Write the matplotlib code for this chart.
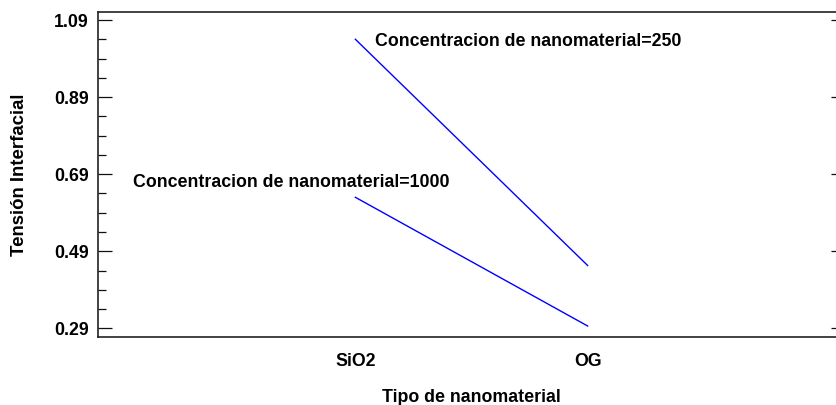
import matplotlib
matplotlib.use("Agg")
import matplotlib.pyplot as plt
from matplotlib.ticker import FixedLocator

categories = ["SiO2", "OG"]
conc_250 = [1.040, 0.453]
conc_1000 = [0.630, 0.296]
series_labels = ["Concentracion de nanomaterial=250", "Concentracion de nanomaterial=1000"]
y_major = [0.29, 0.49, 0.69, 0.89, 1.09]
y_minor = [0.34, 0.39, 0.44, 0.54, 0.59, 0.64, 0.74, 0.79, 0.84, 0.94, 0.99, 1.04]

plt.rcParams['font.family'] = ['Liberation Sans', 'DejaVu Sans']
FS = 12.8

fig = plt.figure(figsize=(8.36, 4.05), dpi=100)
ax = fig.add_axes([0.1172, 0.1686, 1.0108 - 0.1172, 0.9704 - 0.1686])

x = [1, 2]
ax.plot(x, conc_250, color='#0000ff', lw=1.0)
ax.plot(x, conc_1000, color='#0000ff', lw=1.0)

ax.annotate(series_labels[0], xy=(x[0], conc_250[0]), xytext=(14.4, -4.8),
            textcoords='offset points', ha='left', va='baseline',
            fontsize=FS, fontweight='bold')
ax.annotate(series_labels[1], xy=(x[0], conc_1000[0]), xytext=(-160, 7.4),
            textcoords='offset points', ha='left', va='baseline',
            fontsize=FS, fontweight='bold')

ax.set_xlim(1 - 1.108, 2 + 1.108)
ax.set_ylim(0.2682, 1.1108)
ax.set_xticks(x)
ax.set_xticklabels(categories, fontsize=FS, fontweight='bold')
ax.set_yticks(y_major)
ax.set_yticklabels([f"{v:.2f}" for v in y_major], fontsize=FS, fontweight='bold')
ax.yaxis.set_minor_locator(FixedLocator(y_minor))

ax.tick_params(axis='x', length=0, pad=11.5)
ax.tick_params(axis='y', which='major', direction='in', length=10, width=0.9,
               left=True, right=True, pad=6.5, color='#111111')
ax.tick_params(axis='y', which='minor', direction='in', length=5.5, width=0.9,
               left=True, right=False, color='#111111')

for s in ax.spines.values():
    s.set_linewidth(1.2)
    s.set_color('#222222')

ax.set_xlabel("Tipo de nanomaterial", fontsize=FS, fontweight='bold', labelpad=14)
ax.set_ylabel("Tensión Interfacial", fontsize=13.4, fontweight='bold', labelpad=19)

fig.savefig("out.png", dpi=100)
